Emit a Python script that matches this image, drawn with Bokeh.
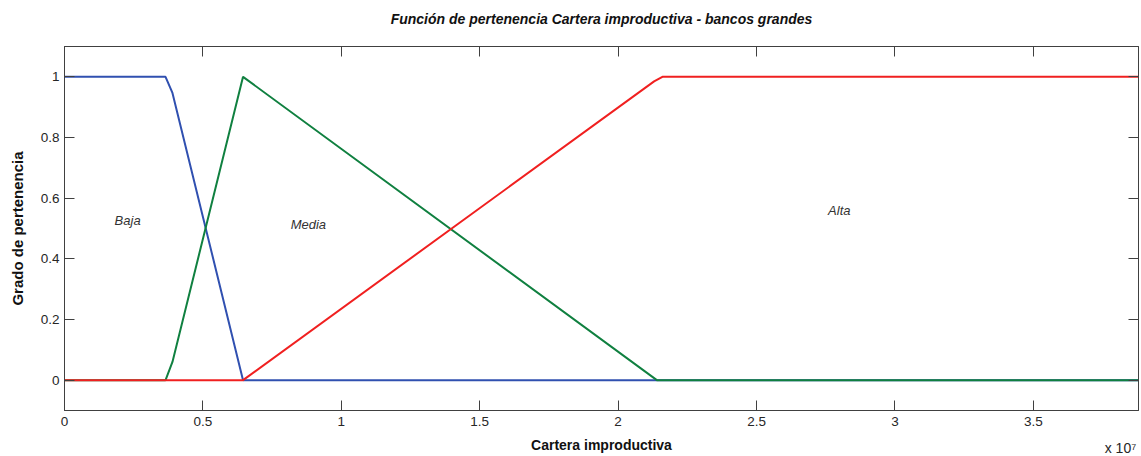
from bokeh.plotting import figure
from bokeh.models import (LinearAxis, FixedTicker, CustomJSTickFormatter, Range1d, Label)
from bokeh.embed import file_html
from bokeh.resources import INLINE

# ---- data (x in units of money, membership degree 0..1) ----
baja_x = [0, 3.65e6, 3.9e6, 6.45e6, 3.88e7]
baja_y = [1, 1, 0.947, 0, 0]

media_x = [0, 3.65e6, 3.9e6, 6.45e6, 2.14e7, 3.88e7]
media_y = [0, 0, 0.06, 1, 0, 0]

alta_x = [0, 6.45e6, 2.13e7, 2.16e7, 3.88e7]
alta_y = [0, 0, 0.985, 1, 1]

x_ticks = [0, 0.5e7, 1e7, 1.5e7, 2e7, 2.5e7, 3e7, 3.5e7]
y_ticks = [0, 0.2, 0.4, 0.6, 0.8, 1]
x_exponent_text = "x 10\u2077"

title_text = "Función de pertenencia Cartera improductiva - bancos grandes"
x_label = "Cartera improductiva"
y_label = "Grado de pertenencia"
set_names = ["Baja", "Media", "Alta"]
set_name_pos_x = [2.28e6, 8.81e6, 2.799e7]
set_name_pos_y = [0.528, 0.512, 0.558]

FONT = "Liberation Sans"
AX_COL = "#404040"
TXT_COL = "#262626"

p = figure(width=1141, height=456, output_backend="svg", toolbar_location=None,
           x_range=Range1d(0, 3.88e7), y_range=Range1d(-0.1, 1.1),
           min_border_left=64, min_border_right=3, min_border_top=46, min_border_bottom=46,
           background_fill_color="white", border_fill_color="white")
p.grid.visible = False
p.outline_line_color = AX_COL
p.outline_line_width = 1

p.title.text = title_text
p.title.align = "center"
p.title.offset = 4
p.title.standoff = 2
p.title.text_font = FONT
p.title.text_font_size = "14px"
p.title.text_font_style = "bold italic"
p.title.text_color = "#111111"

xfmt = CustomJSTickFormatter(code="return (tick/1e7).toString();")
yfmt = CustomJSTickFormatter(code="return parseFloat(tick.toFixed(2)).toString();")
blank = CustomJSTickFormatter(code="return '';")
expfmt = CustomJSTickFormatter(args=dict(t=x_exponent_text), code="return t;")

def style_axis(ax, ticks, fmt, standoff):
    ax.ticker = FixedTicker(ticks=ticks)
    ax.formatter = fmt
    ax.major_tick_in = 10
    ax.major_tick_out = 0
    ax.minor_tick_in = 0
    ax.minor_tick_out = 0
    ax.axis_line_color = AX_COL
    ax.major_tick_line_color = AX_COL
    ax.major_label_text_font = FONT
    ax.major_label_text_font_size = "13.5px"
    ax.major_label_text_color = TXT_COL
    ax.major_label_standoff = standoff
    ax.axis_label_text_font = FONT
    ax.axis_label_text_font_style = "bold"
    ax.axis_label_text_color = "#111111"

style_axis(p.xaxis[0], x_ticks, xfmt, 6)
style_axis(p.yaxis[0], y_ticks, yfmt, 5)
p.yaxis[0].axis_label = y_label
p.yaxis[0].axis_label_text_font_size = "15px"
p.yaxis[0].axis_label_standoff = 12

# second bottom axis: carries the exponent note and the x label
exp_ax = LinearAxis()
style_axis(exp_ax, [3.815e7], expfmt, 11)
exp_ax.axis_line_color = None
exp_ax.major_tick_line_color = None
exp_ax.major_tick_in = 0
exp_ax.major_label_text_font_size = "14px"
exp_ax.axis_label = x_label
exp_ax.axis_label_text_font_size = "14px"
exp_ax.axis_label_standoff = -22
p.add_layout(exp_ax, "below")

top_ax = LinearAxis()
style_axis(top_ax, x_ticks, blank, 0)
top_ax.major_label_text_font_size = "0px"
p.add_layout(top_ax, "above")

# invisible spacer axis above, lifting the title
spacer_ax = LinearAxis()
style_axis(spacer_ax, x_ticks, blank, 0)
spacer_ax.major_label_text_font_size = "0px"
spacer_ax.axis_line_color = None
spacer_ax.major_tick_line_color = None
spacer_ax.major_tick_in = 0
spacer_ax.major_tick_out = 19
p.add_layout(spacer_ax, "above")

right_ax = LinearAxis()
style_axis(right_ax, y_ticks, blank, 0)
right_ax.major_label_text_font_size = "0px"
p.add_layout(right_ax, "right")

p.line(baja_x, baja_y, line_color="#3050b0", line_width=2)
p.line(media_x, media_y, line_color="#108040", line_width=2)
p.line(alta_x, alta_y, line_color="#f02020", line_width=2)

for name, lx, ly in zip(set_names, set_name_pos_x, set_name_pos_y):
    p.add_layout(Label(x=lx, y=ly, text=name, text_font=FONT, text_font_size="13px",
                       text_font_style="italic", text_color="#333333",
                       text_align="center", text_baseline="middle"))

open("out.html", "w").write(file_html(p, INLINE))
